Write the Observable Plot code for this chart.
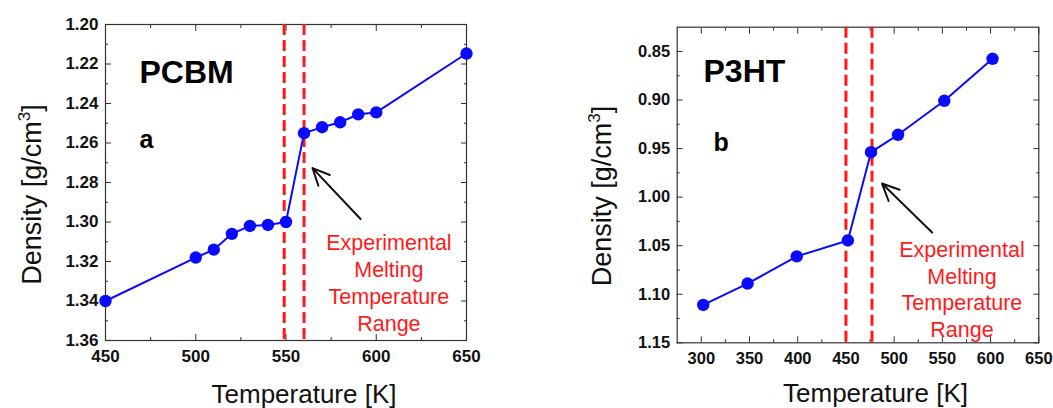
<!DOCTYPE html>
<html><head><meta charset="utf-8">
<script src="https://cdn.jsdelivr.net/npm/d3@7"></script>
<script src="https://cdn.jsdelivr.net/npm/@observablehq/plot@0.6"></script>
<style>
body{margin:0;background:#fff;}
#wrap{position:relative;width:1053px;height:408px;overflow:hidden;background:#fff;}
#left,#right{position:absolute;top:0;}
#left{left:0;}
#right{left:530px;}
</style></head>
<body><div id="wrap"><div id="left"></div><div id="right"></div></div>
<script>
// ---- PCBM (panel a) ----
const pcbmTemp = [450, 500, 510, 520, 530, 540, 550, 560, 570, 580, 590, 600, 650];
const pcbmDensity = [1.340, 1.318, 1.314, 1.306, 1.302, 1.3015, 1.300, 1.255, 1.252, 1.2495, 1.2455, 1.2445, 1.2147];
const pcbmMelt = [549, 560];
const pcbmXMajor = [450, 500, 550, 600, 650];
const pcbmXMinor = [475, 525, 575, 625];
const pcbmYMajor = [1.20, 1.22, 1.24, 1.26, 1.28, 1.30, 1.32, 1.34, 1.36];
const pcbmYMinor = [1.21, 1.23, 1.25, 1.27, 1.29, 1.31, 1.33, 1.35];

// ---- P3HT (panel b) ----
const p3htTemp = [302, 348, 399, 452, 476, 504, 552, 602];
const p3htDensity = [1.111, 1.089, 1.061, 1.0446, 0.9537, 0.9358, 0.9008, 0.8575];
const p3htMelt = [450, 477];
const p3htXMajor = [300, 350, 400, 450, 500, 550, 600, 650];
const p3htXMinor = [325, 375, 425, 475, 525, 575, 625];
const p3htYMajor = [0.85, 0.90, 0.95, 1.00, 1.05, 1.10, 1.15];
const p3htYMinor = [0.875, 0.925, 0.975, 1.025, 1.075, 1.125];

const xTitle = "Temperature [K]";
const yTitle = "Density [g/cm3]";
const noteText = "Experimental\nMelting\nTemperature\nRange";

const FONT = '"Liberation Sans", Arial, Helvetica, sans-serif';

function panel(cfg) {
  const data = cfg.temp.map((t, i) => ({t, d: cfg.dens[i]}));
  const fmt = d3.format(cfg.fmt);
  const blank = () => "";
  const tickStroke = "#333";
  const axes = [];
  for (const anchor of ["bottom", "top"]) {
    axes.push(Plot.axisX({anchor, ticks: cfg.xMajor, tickSize: -6, tickFormat: blank, label: null, stroke: tickStroke}));
    axes.push(Plot.axisX({anchor, ticks: cfg.xMinor, tickSize: -3, tickFormat: blank, label: null, stroke: tickStroke}));
  }
  for (const anchor of ["left", "right"]) {
    axes.push(Plot.axisY({anchor, ticks: cfg.yMajor, tickSize: -6, tickFormat: blank, label: null, stroke: tickStroke}));
    axes.push(Plot.axisY({anchor, ticks: cfg.yMinor, tickSize: -3, tickFormat: blank, label: null, stroke: tickStroke}));
  }
  axes.push(Plot.axisX({anchor: "bottom", ticks: cfg.xMajor, tickSize: 0, tickPadding: cfg.xPad, label: null,
    fontSize: cfg.tickFont, fontWeight: "bold", fill: "#111"}));
  axes.push(Plot.axisY({anchor: "left", ticks: cfg.yMajor, tickSize: 0, tickPadding: cfg.yPad, tickFormat: fmt, label: null,
    fontSize: cfg.tickFont, fontWeight: "bold", fill: "#111"}));

  const svg = Plot.plot({
    width: cfg.width, height: 408,
    marginLeft: cfg.ml, marginRight: cfg.mr, marginTop: cfg.mt, marginBottom: cfg.mb,
    style: {fontFamily: FONT, background: "transparent", color: "#000", overflow: "visible"},
    x: {domain: cfg.xDomain, label: null},
    y: {domain: cfg.yDomain, label: null},
    marks: [
      Plot.frame({stroke: "#333", strokeWidth: 1.2}),
      ...axes,
      Plot.ruleX(cfg.melt, {stroke: "#ff1a1a", strokeWidth: 3, strokeDasharray: "11,5"}),
      Plot.line(data, {x: "t", y: "d", stroke: "#0a0aff", strokeWidth: 2}),
      Plot.dot(data, {x: "t", y: "d", r: 6.2, fill: "#0a0aff", stroke: "none"}),
      Plot.arrow([cfg.arrow], {x1: "x1", y1: "y1", x2: "x2", y2: "y2", stroke: "#111", strokeWidth: 2, headLength: 14, headAngle: 50}),
      Plot.text([noteText], {text: d => d, x: cfg.note[0], y: cfg.note[1], fill: "#ff1a1a", fontSize: 21.5,
        lineHeight: 1.25, textAnchor: "middle", lineAnchor: "middle"}),
      Plot.text([cfg.name], {text: d => d, frameAnchor: "top-left", dx: cfg.nameDx, dy: cfg.nameDy, fontSize: 32,
        fontWeight: "bold", textAnchor: "start", lineAnchor: "bottom", fill: "#000"}),
      Plot.text([cfg.letter], {text: d => d, frameAnchor: "top-left", dx: cfg.letterDx, dy: cfg.letterDy, fontSize: 25,
        fontWeight: "bold", textAnchor: "start", lineAnchor: "bottom", fill: "#000"}),
      Plot.text([xTitle], {text: d => d, frameAnchor: "bottom", dx: cfg.xtDx, dy: cfg.xtDy, fontSize: 26,
        textAnchor: "middle", lineAnchor: "bottom", fill: "#111"}),
      Plot.text([yTitle], {text: d => d, frameAnchor: "left", rotate: -90, dx: cfg.ytDx, dy: cfg.ytDy, fontSize: 27,
        textAnchor: "middle", lineAnchor: "bottom", fill: "#111"})
    ]
  });
  // superscript 3 in the density unit
  d3.select(svg).selectAll("text").filter(function() { return this.textContent === yTitle; }).each(function() {
    const t = d3.select(this);
    t.text(null);
    t.append("tspan").text("Density [g/cm");
    t.append("tspan").attr("dy", "-11").attr("font-size", "17").text("3");
    t.append("tspan").attr("dy", "11").text("]");
  });
  return svg;
}

document.getElementById("left").append(panel({
  temp: pcbmTemp, dens: pcbmDensity, melt: pcbmMelt,
  xMajor: pcbmXMajor, xMinor: pcbmXMinor, yMajor: pcbmYMajor, yMinor: pcbmYMinor,
  xDomain: [450, 650], yDomain: [1.36, 1.20], fmt: ".2f", tickFont: 17,
  width: 520, ml: 105, mr: 54, mt: 24, mb: 68, xPad: 9, yPad: 7,
  arrow: {x1: 591.3, y1: 1.2985, x2: 564.7, y2: 1.2727},
  note: [607, 1.3302],
  name: "PCBM", nameDx: 34, nameDy: 58, letter: "a", letterDx: 34, letterDy: 123,
  xtDx: 18, xtDy: 62, ytDx: -65, ytDy: 12
}));

document.getElementById("right").append(panel({
  temp: p3htTemp, dens: p3htDensity, melt: p3htMelt,
  xMajor: p3htXMajor, xMinor: p3htXMinor, yMajor: p3htYMajor, yMinor: p3htYMinor,
  xDomain: [275, 650], yDomain: [1.15, 0.825], fmt: ".2f", tickFont: 16.5,
  width: 523, ml: 146.7, mr: 14.7, mt: 26.7, mb: 65.7, xPad: 9, yPad: 7,
  arrow: {x1: 539.4, y1: 1.0364, x2: 487.4, y2: 0.986},
  note: [570.3, 1.094],
  name: "P3HT", nameDx: 26.3, nameDy: 55, letter: "b", letterDx: 36.3, letterDy: 123.3,
  xtDx: 17.5, xtDy: 59.4, ytDx: -66, ytDy: 11
}));
</script>
</body></html>
